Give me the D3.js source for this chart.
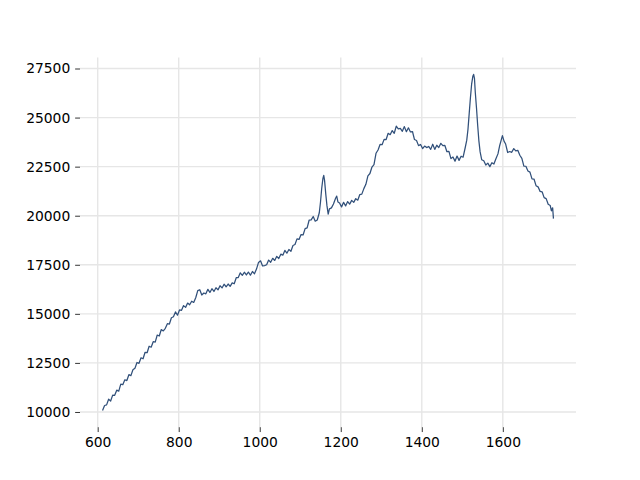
<!DOCTYPE html>
<html>
<head>
<meta charset="utf-8">
<script src="https://cdn.jsdelivr.net/npm/d3@7"></script>
<style>
  html, body { margin: 0; padding: 0; background: #fff; }
  svg { display: block; }
  text { font-family: "DejaVu Sans", sans-serif; }
</style>
</head>
<body>
<script>
const wavenumber = [612,617,622,627,632,637,642,647,652,657,662,667,672,677,682,687,692,697,702,707,712,717,722,727,732,737,742,747,752,757,762,767,772,777,782,787,792,797,802,807,812,817,822,827,832,837,842,847,852,857,862,867,872,877,882,887,892,897,902,907,912,917,922,927,932,937,942,947,952,957,962,967,972,977,982,987,992,997,1002,1007,1012,1017,1022,1027,1032,1037,1042,1047,1052,1057,1062,1067,1072,1077,1082,1087,1092,1097,1102,1107,1112,1117,1122,1127,1132,1137,1142,1147,1150,1153,1156,1158,1160,1163,1166,1169,1172,1177,1182,1187,1190,1193,1197,1202,1207,1212,1217,1222,1227,1232,1237,1242,1247,1252,1257,1262,1267,1272,1277,1282,1287,1292,1297,1302,1307,1312,1317,1322,1327,1332,1337,1342,1347,1352,1357,1362,1367,1372,1377,1382,1387,1392,1397,1402,1407,1412,1417,1422,1427,1432,1437,1442,1447,1452,1457,1462,1467,1472,1477,1482,1487,1492,1497,1502,1507,1511,1514,1517,1520,1523,1526,1528,1530,1532,1535,1538,1541,1544,1548,1553,1558,1563,1568,1573,1578,1583,1588,1592,1596,1599,1603,1607,1612,1617,1622,1627,1632,1637,1642,1647,1652,1657,1662,1667,1672,1677,1682,1687,1692,1697,1702,1707,1712,1717,1720,1723,1725];
const intensity = [10080,10330,10360,10650,10560,10860,10850,11110,11060,11420,11390,11640,11600,11900,11850,12150,12230,12520,12480,12760,12710,13040,13020,13350,13300,13580,13560,13920,13870,14200,14130,14260,14500,14480,14800,14850,15100,14930,15200,15180,15420,15330,15550,15460,15640,15580,15820,16180,16230,15960,16060,16020,16250,16090,16280,16140,16330,16220,16430,16320,16510,16380,16520,16400,16580,16530,16840,16850,17090,16960,17120,16980,17130,16970,17160,17040,17280,17620,17700,17440,17460,17500,17740,17630,17830,17720,17930,17820,18040,17990,18230,18090,18280,18190,18480,18530,18820,18790,19040,19020,19340,19380,19780,19790,19960,19720,19780,20150,20700,21400,21900,22050,21800,21100,20500,20080,20350,20400,20600,20880,21000,20700,20650,20450,20680,20500,20720,20590,20780,20680,20870,20790,21080,21100,21380,21600,22030,22150,22480,22600,23180,23350,23630,23620,23890,23880,24200,24130,24340,24200,24560,24420,24450,24300,24540,24280,24480,24270,24290,23880,23830,23570,23630,23420,23550,23470,23530,23380,23640,23380,23590,23470,23690,23570,23580,23260,23280,22910,22990,22780,23040,22820,23030,22980,23450,23850,24400,25200,26000,26700,27100,27200,27000,26300,25500,24600,23800,23250,22850,22800,22580,22680,22500,22700,22630,22900,23150,23550,23850,24080,23800,23650,23220,23270,23230,23420,23300,23330,23080,22920,22530,22520,22280,22220,21880,21870,21530,21470,21240,21220,20920,20870,20580,20520,20250,20400,19850];
const xTicks = [600, 800, 1000, 1200, 1400, 1600];
const yTicks = [10000, 12500, 15000, 17500, 20000, 22500, 25000, 27500];

const W = 640, H = 480;
const mLeft = 80, mRight = 576, mTop = 57.6, mBottom = 427.2;
const data = wavenumber.map((xv, i) => ({x: xv, y: intensity[i]}));

const xe = d3.extent(wavenumber), ye = d3.extent(intensity);
const xp = (xe[1] - xe[0]) * 0.05, yp = (ye[1] - ye[0]) * 0.05;
const xs = d3.scaleLinear().domain([xe[0] - xp, xe[1] + xp]).range([mLeft, mRight]);
const ys = d3.scaleLinear().domain([ye[0] - yp, ye[1] + yp]).range([mBottom, mTop]);

const svg = d3.select("body").append("svg").attr("width", W).attr("height", H);
svg.append("rect").attr("width", W).attr("height", H).attr("fill", "#fff");

// grid
const grid = svg.append("g");
grid.selectAll("line.gx").data(xTicks).join("line").attr("class", "gx")
  .attr("x1", d => xs(d)).attr("x2", d => xs(d)).attr("y1", mTop).attr("y2", mBottom)
  .attr("stroke", "#e6e6e6").attr("stroke-width", 1.4);
grid.selectAll("line.gy").data(yTicks).join("line").attr("class", "gy")
  .attr("y1", d => ys(d)).attr("y2", d => ys(d)).attr("x1", mLeft).attr("x2", mRight)
  .attr("stroke", "#e6e6e6").attr("stroke-width", 1.4);

// axes
const xAxis = d3.axisBottom(xs).tickValues(xTicks).tickSize(4.86).tickPadding(4.86).tickFormat(d3.format("d"));
const yAxis = d3.axisLeft(ys).tickValues(yTicks).tickSize(4.86).tickPadding(4.86).tickFormat(d3.format("d"));

const gx = svg.append("g").attr("transform", `translate(0,${mBottom})`).call(xAxis);
const gy = svg.append("g").attr("transform", `translate(${mLeft},0)`).call(yAxis);
[gx, gy].forEach(g => {
  g.select(".domain").remove();
  g.selectAll(".tick line").attr("stroke", "#000").attr("stroke-width", 0.8);
  g.selectAll(".tick text").attr("fill", "#000")
    .style("font-family", "'DejaVu Sans', sans-serif").style("font-size", "13.89px");
});

// line
const line = d3.line().x(d => xs(d.x)).y(d => ys(d.y));
svg.append("path").datum(data).attr("d", line)
  .attr("fill", "none").attr("stroke", "#31507a").attr("stroke-width", 1.25)
  .attr("stroke-linejoin", "round");
</script>
</body>
</html>
